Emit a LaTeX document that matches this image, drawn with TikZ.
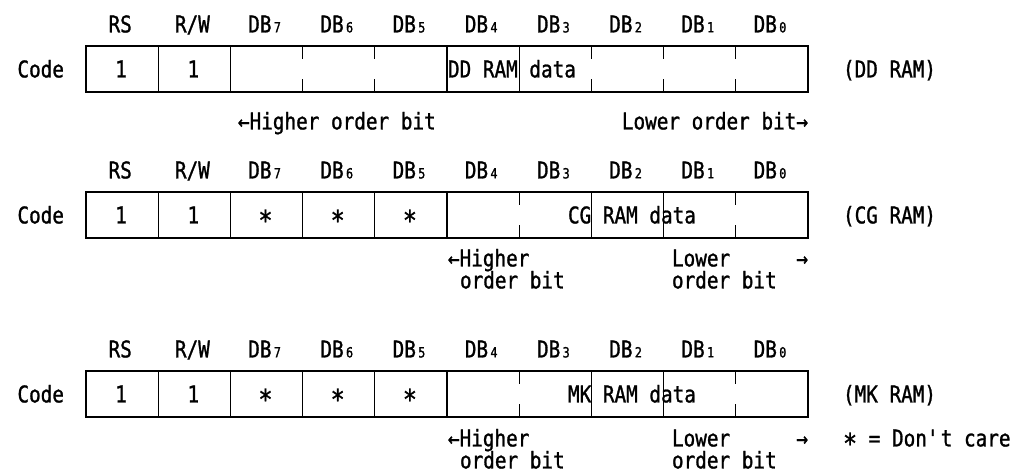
\documentclass[tikz,border=0pt]{standalone}
\usepackage{fontspec}
\setmainfont[FakeStretch=0.84, FakeBold=1.2]{DejaVu Sans Mono}
\usepackage{tikz}
\usetikzlibrary{positioning,calc}

\newcommand{\db}[1]{DB{\fontsize{14}{14}\selectfont\,#1}}
\newcommand{\dcstar}{\raisebox{-0.3em}{\fontsize{28}{28}\selectfont *}}
\newcommand{\rwlabel}{R/W}

\begin{document}
\begin{tikzpicture}[x=1pt, y=-1pt,
  every node/.style={font=\fontsize{23}{26}\selectfont, inner sep=0pt, outer sep=0pt, text height=16.8pt, text depth=0pt},
  regbox/.style={draw, line width=2.8pt, minimum width=722pt, minimum height=46pt, anchor=north west},
  sepline/.style={line width=1.3pt}]
  \useasboundingbox (0,0) rectangle (1021,476);

  % the three register boxes
  \node[regbox] (box1) at (86,46) {};
  \node[regbox] (box2) at (86,192) {};
  \node[regbox] (box3) at (86,371) {};

  % cell borders: full lines and short ticks
  \foreach \k in {1,2,5,6}
    \draw[sepline] ($(box1.north west)+(\k*72.2,0)$) -- ($(box1.south west)+(\k*72.2,0)$);
  \foreach \k in {3,4,7,8,9}
    \draw[sepline] ($(box1.north west)+(\k*72.2,0)$) -- +(0,13) ($(box1.south west)+(\k*72.2,0)$) -- +(0,-13);
  \foreach \r in {2,3}{
    \foreach \k in {1,2,3,4,5,7,8}
      \draw[sepline] ($(box\r.north west)+(\k*72.2,0)$) -- ($(box\r.south west)+(\k*72.2,0)$);
    \foreach \k in {6,9}
      \draw[sepline] ($(box\r.north west)+(\k*72.2,0)$) -- +(0,13) ($(box\r.south west)+(\k*72.2,0)$) -- +(0,-13);
  }

  % bit names over each box
  \foreach \r/\y in {1/24, 2/170, 3/349}
    \foreach \k/\t in {1/RS, 2/\rwlabel, 3/\db7, 4/\db6, 5/\db5, 6/\db4, 7/\db3, 8/\db2, 9/\db1, 10/\db0}
      \node (h\r-\k) at (\k*72.2+48, \y) {\t};

  \node[left=22pt of box1] (code1) {Code};
  \node[left=22pt of box2] (code2) {Code};
  \node[left=22pt of box3] (code3) {Code};

  % DD RAM
  \node (rs1) at (121.1,69) {1};
  \node (rw1) at (193.3,69) {1};
  \node[anchor=west] (data1) at (448,69) {DD RAM data};
  \node[right=35pt of box1] (name1) {(DD RAM)};
  \node[anchor=west] (hi1) at (238,121) {←Higher order bit};
  \node[anchor=east] (lo1) at (808,121) {Lower order bit→};

  % CG RAM
  \node (rs2) at (121.1,215) {1};
  \node (rw2) at (193.3,215) {1};
  \node (x27) at (265.5,215) {\dcstar};
  \node (x26) at (337.7,215) {\dcstar};
  \node (x25) at (409.9,215) {\dcstar};
  \node[anchor=west] (data2) at (568,215) {CG RAM data};
  \node[right=35pt of box2] (name2) {(CG RAM)};
  \node[anchor=west] (hi2) at (448,258) {←Higher};
  \node[anchor=west] (hi2b) at (460,280) {order bit};
  \node[anchor=west] (lo2) at (672,258) {Lower};
  \node[anchor=east] (ar2) at (808,258) {→};
  \node[anchor=west] (lo2b) at (672,280) {order bit};

  % MK RAM
  \node (rs3) at (121.1,394) {1};
  \node (rw3) at (193.3,394) {1};
  \node (x37) at (265.5,394) {\dcstar};
  \node (x36) at (337.7,394) {\dcstar};
  \node (x35) at (409.9,394) {\dcstar};
  \node[anchor=west] (data3) at (568,394) {MK RAM data};
  \node[right=35pt of box3] (name3) {(MK RAM)};
  \node[anchor=west] (hi3) at (448,438) {←Higher};
  \node[anchor=west] (hi3b) at (460,460) {order bit};
  \node[anchor=west] (lo3) at (672,438) {Lower};
  \node[anchor=east] (ar3) at (808,438) {→};
  \node[anchor=west] (lo3b) at (672,460) {order bit};
  \node[anchor=west] (note) at (843,438) {\dcstar{} = Don\textquotesingle t care};
\end{tikzpicture}
\end{document}
